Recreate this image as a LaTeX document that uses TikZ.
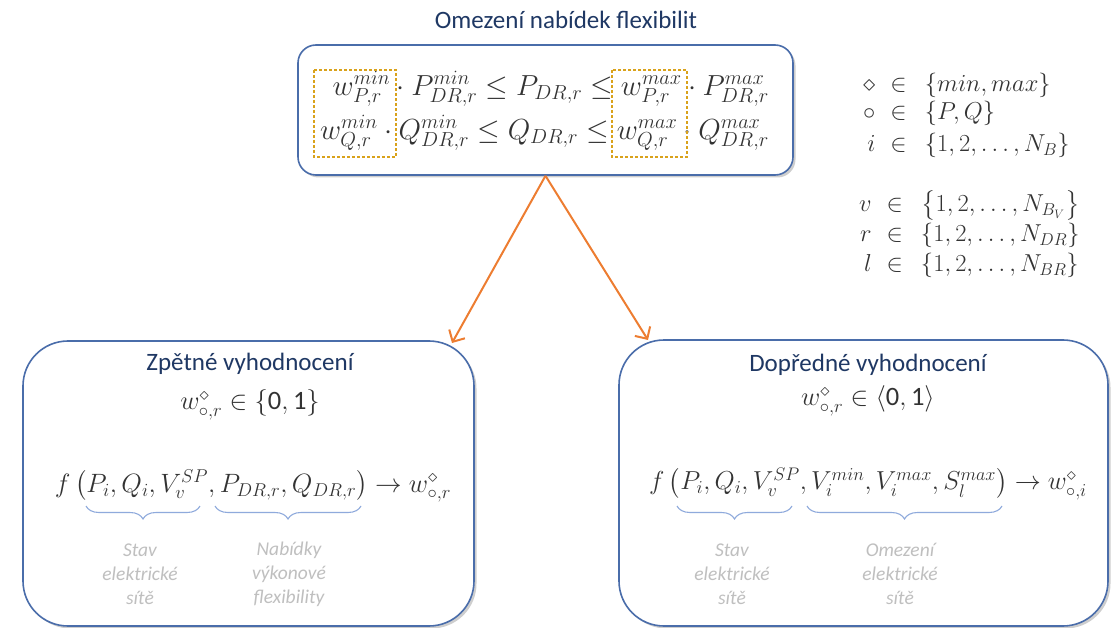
\documentclass[tikz,border=0pt]{standalone}
\usepackage{fix-cm}
\usepackage{amsmath}
\usepackage{fontspec}
\newfontfamily\carlito{Carlito}
\usetikzlibrary{arrows.meta,shadows,decorations.pathreplacing,calc}
\definecolor{boxblue}{HTML}{4A6DAA}
\definecolor{titleblue}{HTML}{1F3864}
\definecolor{arrorange}{HTML}{ED7D31}
\definecolor{dashgold}{HTML}{D9A21B}
\definecolor{bracecol}{HTML}{8FAADC}
\definecolor{lblgray}{HTML}{BFBFBF}
\definecolor{mathgray}{HTML}{333333}
\begin{document}
\begin{tikzpicture}[x=1pt,y=-1pt,
  panel/.style={draw=boxblue, line width=1.6pt, fill=white, rounded corners=#1,
    drop shadow={shadow xshift=2.5pt, shadow yshift=-2.5pt, opacity=0.35, fill=black!55}},
  ttl/.style={text=titleblue, font=\carlito\fontsize{25}{25}\selectfont, inner sep=0pt},
  mth/.style={text=mathgray, inner sep=0pt},
  lbl/.style={text=lblgray, font=\carlito\itshape\fontsize{19.5}{24}\selectfont, align=center, inner sep=0pt},
  brc/.style={draw=bracecol, line width=1.1pt, decorate, decoration={brace, mirror, amplitude=13pt}},
  arr/.style={draw=arrorange, line width=2pt, -{Straight Barb[length=9pt,width=18pt,line width=2pt]}},
  dsh/.style={draw=dashgold, line width=1.2pt, dash pattern=on 3pt off 2pt}
]
\useasboundingbox (0,0) rectangle (1119,628);

% top panel
\node[panel=18, minimum width=495pt, minimum height=130pt] (T) at (545.5,110) {};
\node[ttl] (Tt) at (566,20) {Omezení nabídek flexibilit};
\node[mth, font=\fontsize{29}{29}\selectfont, anchor=east] (Te1) at (769,89)
  {$w_{P,r}^{min}\cdot P_{DR,r}^{min}\leq P_{DR,r}\leq w_{P,r}^{max}\cdot P_{DR,r}^{max}$};
\node[mth, font=\fontsize{29}{29}\selectfont, anchor=east] (Te2) at (769,133)
  {$w_{Q,r}^{min}\cdot Q_{DR,r}^{min}\leq Q_{DR,r}\leq w_{Q,r}^{max}\cdot Q_{DR,r}^{max}$};
\draw[dsh] (314,70) rectangle (396,157);
\draw[dsh] (612,70) rectangle (687,157);

% symbol definitions
\node[mth, font=\fontsize{24.5}{28}\selectfont, anchor=base west] (S1) at (858,92)
  {$\begin{array}[t]{r@{\hspace{15pt}\in\hspace{18pt}}l}
    \diamond & \{min,max\}\\
    \circ & \{P,Q\}\\[4pt]
    i & \{1,2,\dots,N_B\}
  \end{array}$};
\node[mth, font=\fontsize{24.5}{30}\selectfont, anchor=base west] (S2) at (854,212)
  {$\begin{array}[t]{r@{\hspace{15pt}\in\hspace{18pt}}l}
    v & \bigl\{1,2,\dots,N_{B_V}\bigr\}\\
    r & \{1,2,\dots,N_{DR}\}\\
    l & \{1,2,\dots,N_{BR}\}
  \end{array}$};

% bottom panels
\node[panel=45, minimum width=451pt, minimum height=285pt] (L) at (248.5,483.5) {};
\node[panel=45, minimum width=489pt, minimum height=286pt] (R) at (863.5,483) {};

\node[ttl] (Lt) at (250,364) {Zpětné vyhodnocení};
\node[mth, font=\fontsize{26.5}{26.5}\selectfont] (Lw) at (250,405)
  {$w_{\circ,r}^{\diamond}\in\{\mbox{\carlito 0},\mbox{\carlito 1}\}$};
\node[mth, font=\fontsize{26.5}{26.5}\selectfont] (Lf) at (253,486)
  {$f\left(P_i,Q_i,V_v^{SP},P_{DR,r},Q_{DR,r}\right)\rightarrow w_{\circ,r}^{\diamond}$};
\coordinate (lb1a) at (86,506); \coordinate (lb1b) at (200,506);
\coordinate (lb2a) at (215,506); \coordinate (lb2b) at (361,506);
\draw[brc] (lb1a) -- (lb1b);
\draw[brc] (lb2a) -- (lb2b);
\node[lbl] (Ll1) at (140,574) {Stav\\elektrické\\sítě};
\node[lbl] (Ll2) at (289,574) {Nabídky\\výkonové\\flexibility};

\node[ttl] (Rt) at (868,365) {Dopředné vyhodnocení};
\node[mth, font=\fontsize{26.5}{26.5}\selectfont] (Rw) at (868,401)
  {$w_{\circ,r}^{\diamond}\in\langle\mbox{\carlito 0},\mbox{\carlito 1}\rangle$};
\node[mth, font=\fontsize{26}{26}\selectfont] (Rf) at (868,484)
  {$f\left(P_i,Q_i,V_v^{SP},V_i^{min},V_i^{max},S_l^{max}\right)\rightarrow w_{\circ,i}^{\diamond}$};
\coordinate (rb1a) at (677,506); \coordinate (rb1b) at (792,506);
\coordinate (rb2a) at (807,506); \coordinate (rb2b) at (1002,506);
\draw[brc] (rb1a) -- (rb1b);
\draw[brc] (rb2a) -- (rb2b);
\node[lbl] (Rl1) at (732,574) {Stav\\elektrické\\sítě};
\node[lbl] (Rl2) at (900,574) {Omezení\\elektrické\\sítě};

% arrows
\coordinate (aL) at (452,343);
\coordinate (aR) at (648,340);
\draw[arr] (T.south) -- (aL);
\draw[arr] (T.south) -- (aR);
\end{tikzpicture}
\end{document}
